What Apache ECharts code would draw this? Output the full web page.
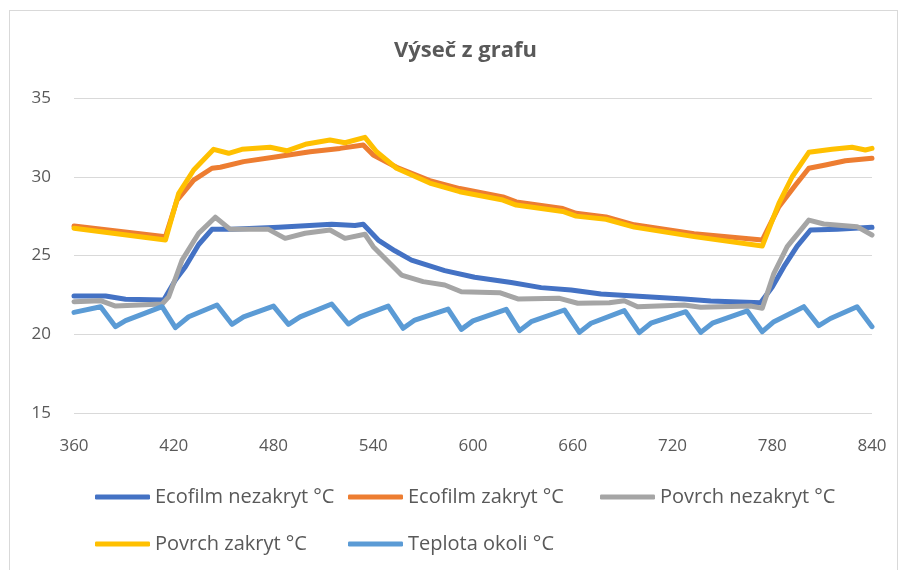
<!DOCTYPE html>
<html>
<head>
<meta charset="utf-8">
<script src="https://cdn.jsdelivr.net/npm/echarts@6/dist/echarts.min.js"></script>
<style>
  html, body { margin: 0; padding: 0; background: #fff; }
  #chart { width: 909px; height: 570px; }
  #frame { position: absolute; left: 9px; top: 10px; width: 887px; height: 600px; border: 1px solid #d9d9d9; pointer-events: none; }
</style>
</head>
<body>
<div id="chart"></div>
<div id="frame"></div>
<script>
// time (min) + temperature arrays
const ecoNezT = [360, 379, 391, 414, 421, 427, 435, 443, 455, 483, 515, 529, 534, 543, 553, 563, 583, 601, 623, 641, 659, 677, 697, 727, 743, 773, 780, 787, 795, 803, 819, 840]
const ecoNezV = [22.43, 22.43, 22.22, 22.17, 23.44, 24.29, 25.7, 26.66, 26.66, 26.79, 26.98, 26.9, 26.98, 25.98, 25.3, 24.71, 24.04, 23.62, 23.28, 22.96, 22.81, 22.56, 22.43, 22.24, 22.11, 22.0, 23.0, 24.29, 25.6, 26.62, 26.66, 26.79]

const ecoZakT = [360, 415, 422, 432, 443, 448, 462, 482, 502, 520, 534, 540, 554, 574, 592, 618, 626, 654, 662, 680, 697, 733, 774, 784, 794, 802, 812, 824, 840]
const ecoZakV = [26.87, 26.19, 28.52, 29.79, 30.54, 30.6, 30.96, 31.27, 31.59, 31.8, 32.02, 31.38, 30.6, 29.75, 29.25, 28.72, 28.4, 27.98, 27.68, 27.45, 26.95, 26.38, 25.98, 28.1, 29.48, 30.54, 30.75, 31.02, 31.17]

const povNezT = [360, 376, 385, 413, 417, 425, 435, 445, 454, 477, 487, 499, 514, 523, 535, 540, 548, 557, 570, 583, 593, 616, 627, 652, 663, 682, 691, 699, 727, 737, 767, 774, 781, 789, 802, 811, 831, 840]
const povNezV = [22.07, 22.13, 21.79, 21.92, 22.38, 24.71, 26.41, 27.43, 26.66, 26.66, 26.09, 26.41, 26.62, 26.09, 26.35, 25.56, 24.71, 23.76, 23.34, 23.13, 22.7, 22.64, 22.24, 22.28, 21.97, 22.0, 22.13, 21.75, 21.86, 21.71, 21.79, 21.65, 23.87, 25.56, 27.25, 27.0, 26.83, 26.3]

const povZakT = [360, 415, 423, 432, 444, 453, 461, 478, 488, 500, 514, 523, 535, 542, 554, 574, 592, 618, 626, 654, 662, 680, 697, 733, 774, 784, 792, 802, 816, 828, 836, 840]
const povZakV = [26.73, 25.98, 28.95, 30.43, 31.74, 31.49, 31.74, 31.87, 31.65, 32.08, 32.33, 32.16, 32.5, 31.59, 30.54, 29.6, 29.05, 28.52, 28.2, 27.8, 27.5, 27.3, 26.8, 26.2, 25.6, 28.31, 30.0, 31.55, 31.74, 31.87, 31.7, 31.8]

const okoliT = [360, 376, 385, 391, 413, 421, 429, 446, 455, 462, 480, 489, 496, 515, 525, 532, 549, 558, 565, 585, 593, 600, 620, 628, 635, 655, 664, 671, 691, 700, 707, 728, 737, 744, 765, 774, 781, 799, 808, 815, 831, 840]
const okoliV = [21.39, 21.75, 20.48, 20.86, 21.75, 20.42, 21.11, 21.86, 20.63, 21.1, 21.79, 20.63, 21.1, 21.92, 20.65, 21.1, 21.79, 20.38, 20.9, 21.6, 20.31, 20.85, 21.58, 20.23, 20.8, 21.54, 20.12, 20.7, 21.5, 20.1, 20.7, 21.43, 20.12, 20.7, 21.48, 20.16, 20.8, 21.75, 20.54, 21.0, 21.75, 20.48]

const seriesNames = ['Ecofilm nezakryt °C', 'Ecofilm zakryt °C', 'Povrch nezakryt °C', 'Povrch zakryt °C', 'Teplota okoli °C']
const seriesColors = ['#4472C4', '#ED7D31', '#A5A5A5', '#FFC000', '#5B9BD5']
const seriesT = [ecoNezT, ecoZakT, povNezT, povZakT, okoliT]
const seriesV = [ecoNezV, ecoZakV, povNezV, povZakV, okoliV]

const font = 'Open Sans'
const textColor = '#595959'

const zip = (t, v) => t.map((x, i) => [x, v[i]])

// one legend per entry so the columns line up like in Excel
const legendSlots = [[95, 487], [348, 487], [600, 487], [95, 534], [348, 534]]

const chart = echarts.init(document.getElementById('chart'), null, { renderer: 'canvas' })
chart.setOption({
  animation: false,
  backgroundColor: '#fff',
  title: {
    text: 'Výseč z grafu',
    left: 389,
    top: 35,
    textStyle: { fontFamily: font, fontSize: 22, fontWeight: 'bold', color: textColor }
  },
  legend: seriesNames.map((name, i) => ({
    left: legendSlots[i][0],
    top: legendSlots[i][1],
    padding: 0,
    itemWidth: 55,
    itemHeight: 5,
    icon: 'roundRect',
    textStyle: { fontFamily: font, fontSize: 20, color: textColor },
    data: [name]
  })),
  grid: { left: 74, right: 37, top: 98, bottom: 157 },
  xAxis: {
    type: 'value',
    min: 360,
    max: 840,
    interval: 60,
    axisLine: { show: false },
    axisTick: { show: false },
    splitLine: { show: false },
    axisLabel: { fontFamily: font, fontSize: 17, color: textColor, margin: 25 }
  },
  yAxis: {
    type: 'value',
    min: 15,
    max: 35,
    interval: 5,
    axisLine: { show: false },
    axisTick: { show: false },
    splitLine: { lineStyle: { color: '#d9d9d9', width: 1 } },
    axisLabel: { fontFamily: font, fontSize: 17, color: textColor, margin: 23 }
  },
  series: seriesNames.map((name, i) => ({
    name,
    type: 'line',
    data: zip(seriesT[i], seriesV[i]),
    showSymbol: false,
    symbol: 'none',
    color: seriesColors[i],
    lineStyle: { width: 5, cap: 'round', join: 'round' }
  }))
})
</script>
</body>
</html>
